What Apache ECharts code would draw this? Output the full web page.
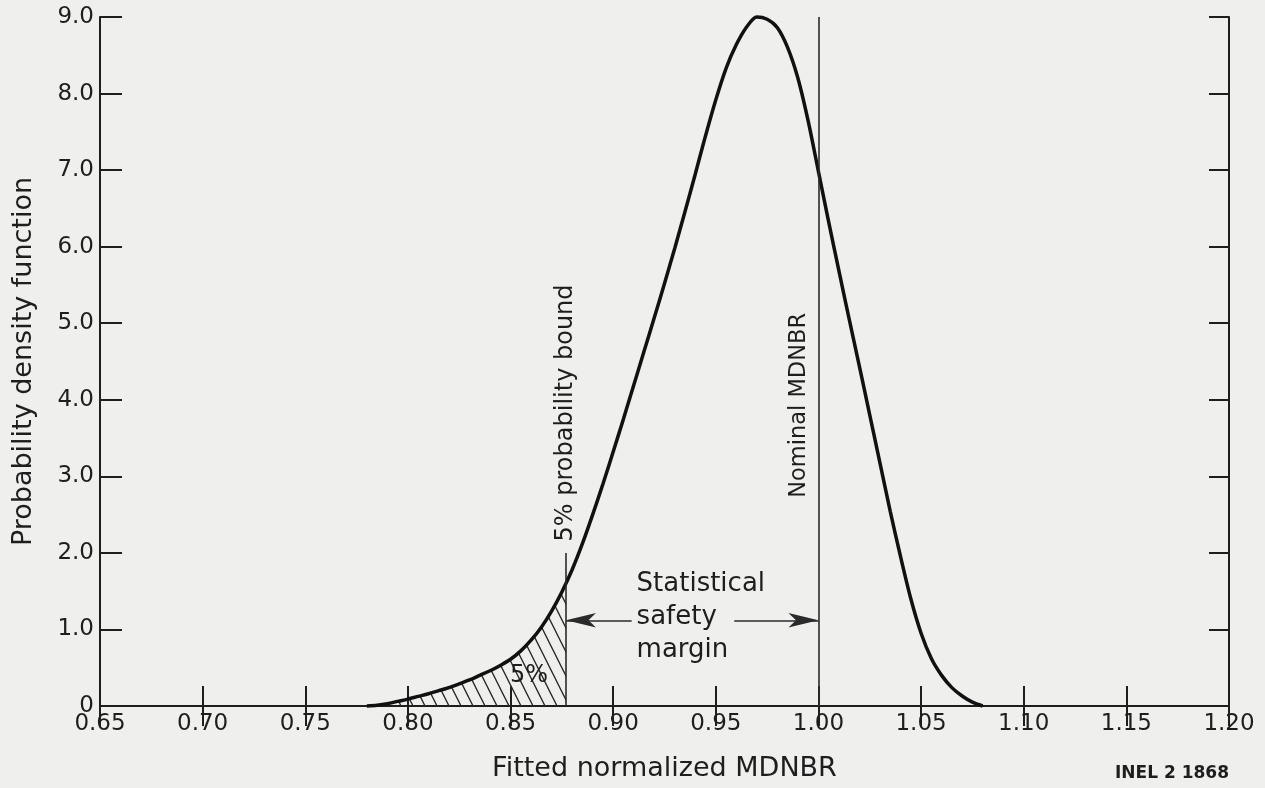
<!DOCTYPE html>
<html>
<head>
<meta charset="utf-8">
<script src="https://cdn.jsdelivr.net/npm/echarts@6/dist/echarts.min.js"></script>
<style>
  html, body { margin: 0; padding: 0; background: #efefed; }
  #main { width: 1265px; height: 788px; }
</style>
</head>
<body>
<div id="main"></div>
<script>
// curve every 0.005 (x = fitted normalized MDNBR, y = pdf)
const mdnbr = [0.780, 0.785, 0.790, 0.795, 0.800, 0.805, 0.810, 0.815, 0.820, 0.825,
  0.830, 0.835, 0.840, 0.845, 0.850, 0.855, 0.860, 0.865, 0.870, 0.875,
  0.880, 0.885, 0.890, 0.895, 0.900, 0.905, 0.910, 0.915, 0.920, 0.925,
  0.930, 0.935, 0.940, 0.945, 0.950, 0.955, 0.960, 0.965, 0.970, 0.975,
  0.980, 0.985, 0.990, 0.995, 1.000, 1.005, 1.010, 1.015, 1.020, 1.025,
  1.030, 1.035, 1.040, 1.045, 1.050, 1.055, 1.060, 1.065, 1.070, 1.075, 1.080];
const pdf = [0, 0.01, 0.03, 0.06, 0.09, 0.125, 0.16, 0.2, 0.24, 0.29,
  0.34, 0.4, 0.46, 0.53, 0.61, 0.72, 0.86, 1.03, 1.24, 1.49,
  1.78, 2.12, 2.5, 2.9, 3.32, 3.75, 4.19, 4.63, 5.07, 5.52,
  5.98, 6.46, 6.95, 7.45, 7.92, 8.33, 8.64, 8.87, 9.0, 8.97,
  8.86, 8.6, 8.2, 7.64, 6.98, 6.32, 5.68, 5.05, 4.43, 3.8,
  3.17, 2.54, 1.95, 1.4, 0.95, 0.62, 0.4, 0.24, 0.13, 0.05, 0];

const xTicks = { min: 0.65, max: 1.20, step: 0.05 };
const yTicks = { min: 0, max: 9, step: 1 };

const boundX = 0.877;      // 5% probability bound
const boundY = 1.6;        // curve height at the bound
const boundTop = 2.0;
const nominalX = 1.00;     // nominal MDNBR
const arrowY = 1.12;
const leftArrow = [0.909, boundX];
const rightArrow = [0.959, nominalX];

const ink = '#1e1e1e';
const font = 'DejaVu Sans';

function hatchPattern() {
  const c = document.createElement('canvas');
  c.width = 12; c.height = 24;
  const g = c.getContext('2d');
  g.strokeStyle = '#2a2a2a';
  g.lineWidth = 1.4;
  g.beginPath();
  [-12, 0, 12].forEach(function (o) {
    g.moveTo(o - 2, -4);
    g.lineTo(o + 14, 28);
  });
  g.stroke();
  return c;
}

const curve = mdnbr.map(function (x, i) { return [x, pdf[i]]; });
const tail = curve.filter(function (p) { return p[0] < boundX; }).concat([[boundX, boundY]]);

const chart = echarts.init(document.getElementById('main'));

const option = {
  backgroundColor: '#efefed',
  animation: false,
  textStyle: { fontFamily: font, color: ink },
  grid: { left: 100, right: 36, top: 17, bottom: 82 },
  xAxis: [
    {
      type: 'value', min: xTicks.min, max: xTicks.max, interval: xTicks.step,
      name: 'Fitted normalized MDNBR', nameLocation: 'middle', nameGap: 49,
      nameTextStyle: { fontSize: 27, color: ink, fontFamily: font },
      axisLine: { lineStyle: { color: ink, width: 2 } },
      axisTick: { inside: true, length: 20, lineStyle: { color: ink, width: 2 } },
      axisLabel: { fontSize: 23, color: ink, margin: 7, formatter: function (v) { return v.toFixed(2); } },
      splitLine: { show: false }
    },
    {
      type: 'value', position: 'top', min: xTicks.min, max: xTicks.max, interval: xTicks.step,
      axisLine: { lineStyle: { color: ink, width: 2 } },
      axisTick: { inside: true, length: 20, lineStyle: { color: ink, width: 2 } },
      axisLabel: { show: false },
      splitLine: { show: false }
    }
  ],
  yAxis: [
    {
      type: 'value', min: yTicks.min, max: yTicks.max, interval: yTicks.step,
      name: 'Probability density function', nameLocation: 'middle', nameGap: 63,
      nameTextStyle: { fontSize: 27, color: ink, fontFamily: font },
      axisLine: { lineStyle: { color: ink, width: 2 } },
      axisTick: { inside: true, length: 22, lineStyle: { color: ink, width: 2 } },
      axisLabel: { fontSize: 23, color: ink, margin: 6, formatter: function (v) { return v === 0 ? '0' : v.toFixed(1); } },
      splitLine: { show: false }
    },
    {
      type: 'value', position: 'right', min: yTicks.min, max: yTicks.max, interval: yTicks.step,
      axisLine: { lineStyle: { color: ink, width: 2 } },
      axisTick: { inside: true, length: 20, lineStyle: { color: ink, width: 2 } },
      axisLabel: { show: false },
      splitLine: { show: false }
    }
  ],
  graphic: [
    {
      type: 'text', right: 36, bottom: 6,
      style: { text: 'INEL 2 1868', font: 'bold 17px "DejaVu Sans"', fill: ink }
    }
  ],
  series: [
    {
      // hatched 5% tail
      type: 'line', data: tail, smooth: 0.3, symbol: 'none', silent: true,
      lineStyle: { width: 0 },
      areaStyle: { color: { image: hatchPattern(), repeat: 'repeat' }, opacity: 1 },
      z: 1
    },
    {
      type: 'line', data: curve, smooth: 0.3, symbol: 'none', clip: false, silent: true,
      lineStyle: { color: '#111', width: 3.5 },
      z: 3,
      markLine: {
        silent: true, symbol: 'none', animation: false,
        lineStyle: { color: '#2a2a2a', width: 1.6, type: 'solid' },
        label: { show: false },
        data: [
          { xAxis: nominalX },
          [{ coord: [boundX, 0] }, { coord: [boundX, boundTop] }],
          [{ coord: [leftArrow[0], arrowY], symbol: 'none' }, { coord: [leftArrow[1], arrowY], symbol: 'arrow', symbolSize: [11, 30] }],
          [{ coord: [rightArrow[0], arrowY], symbol: 'none' }, { coord: [rightArrow[1], arrowY], symbol: 'arrow', symbolSize: [11, 30] }]
        ]
      }
    },
    {
      // text annotations anchored in data coordinates
      type: 'scatter', symbolSize: 0, silent: true, z: 5,
      itemStyle: { opacity: 1 },
      data: [
        {
          value: [boundX, 2.15],
          label: { show: true, position: 'inside', rotate: 90, align: 'left', verticalAlign: 'middle', formatter: '5% probability bound', fontSize: 24, color: ink, opacity: 1, fontFamily: font }
        },
        {
          value: [0.9905, 2.72],
          label: { show: true, position: 'inside', rotate: 90, align: 'left', verticalAlign: 'middle', formatter: 'Nominal MDNBR', fontSize: 22.5, color: ink, opacity: 1, fontFamily: font }
        },
        {
          value: [0.9114, 1.16],
          label: { show: true, position: 'inside', align: 'left', verticalAlign: 'middle', formatter: 'Statistical\nsafety\nmargin', lineHeight: 33, fontSize: 26, color: ink, opacity: 1, fontFamily: font }
        },
        {
          value: [0.859, 0.39],
          label: { show: true, position: 'inside', align: 'center', verticalAlign: 'middle', formatter: '5%', fontSize: 24, color: ink, opacity: 1, fontFamily: font }
        }
      ]
    }
  ]
};

chart.setOption(option);
</script>
</body>
</html>
